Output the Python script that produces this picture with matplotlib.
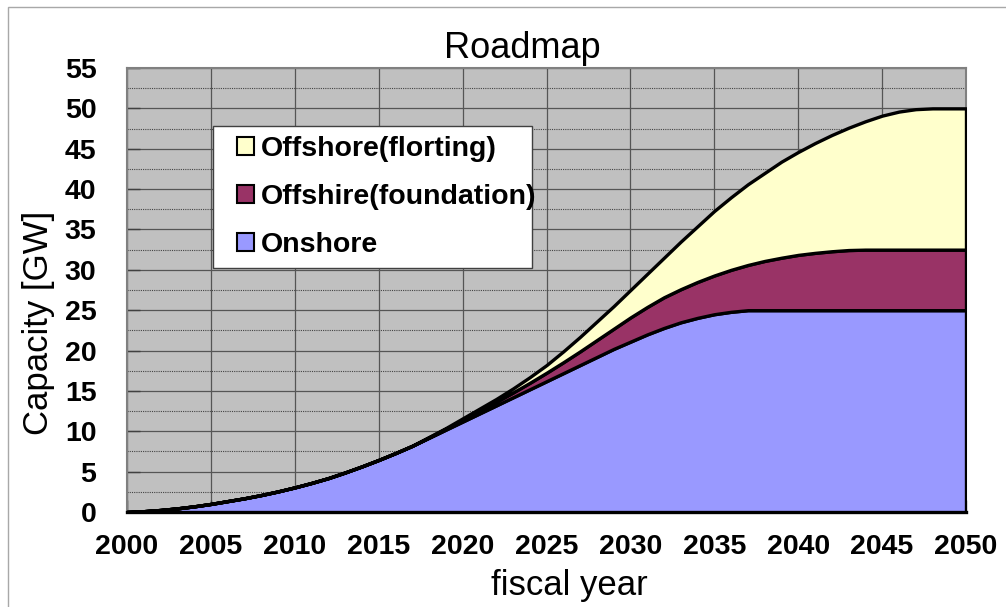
import numpy as np
import matplotlib
matplotlib.use("Agg")
import matplotlib.pyplot as plt
from matplotlib.patches import Rectangle, Patch

plt.rcParams['font.family'] = ['Liberation Sans', 'DejaVu Sans']

## Values (GW), one point per fiscal year 2000..2050
years = np.arange(2000, 2051)
onshore = [0.0, 0.1, 0.25, 0.45, 0.7, 1.0, 1.35, 1.7, 2.1, 2.55,
           3.05, 3.6, 4.2, 4.9, 5.65, 6.45, 7.3, 8.2, 9.2, 10.2,
           11.2, 12.2, 13.2, 14.2, 15.2, 16.2, 17.2, 18.2, 19.2, 20.2,
           21.1, 22.0, 22.8, 23.5, 24.05, 24.5, 24.8, 25.0, 25.0, 25.0,
           25.0, 25.0, 25.0, 25.0, 25.0, 25.0, 25.0, 25.0, 25.0, 25.0,
           25.0]
foundation = [0, 0, 0, 0, 0, 0, 0, 0, 0, 0,
              0, 0, 0, 0, 0, 0, 0, 0, 0.05, 0.1,
              0.2, 0.3, 0.45, 0.6, 0.8, 1.05, 1.35, 1.7, 2.1, 2.5,
              3.0, 3.4, 3.8, 4.1, 4.45, 4.8, 5.2, 5.6, 6.1, 6.5,
              6.85, 7.1, 7.3, 7.45, 7.5, 7.5, 7.5, 7.5, 7.5, 7.5,
              7.5]
floating = [0, 0, 0, 0, 0, 0, 0, 0, 0, 0,
            0, 0, 0, 0, 0, 0, 0, 0, 0.05, 0.1,
            0.2, 0.3, 0.35, 0.5, 0.7, 0.95, 1.35, 1.8, 2.3, 2.8,
            3.4, 4.1, 4.9, 5.9, 6.9, 8.0, 9.0, 10.0, 10.9, 11.9,
            12.75, 13.6, 14.4, 15.15, 15.9, 16.6, 17.1, 17.4, 17.5, 17.5,
            17.5]

labels = ['Onshore', 'Offshire(foundation)', 'Offshore(florting)']
colors = ['#9999FF', '#993366', '#FFFFCC']

W, H = 1006, 607
fig = plt.figure(figsize=(W / 100, H / 100), dpi=100)
ax = fig.add_axes([127 / W, (H - 512) / H, (966 - 127) / W, (512 - 68) / H])
ax.set_facecolor('#C0C0C0')

ax.stackplot(years, onshore, foundation, floating, colors=colors,
             edgecolor='black', linewidth=2.4, zorder=3)

ax.set_xlim(2000, 2050)
ax.set_ylim(0, 55)
ax.set_xticks(range(2000, 2051, 5))
ax.set_yticks(range(0, 56, 5))
ax.set_yticks(np.arange(2.5, 55, 5), minor=True)

ax.grid(True, which='major', axis='both', color='#555555', linewidth=0.9, zorder=1)
ax.grid(True, which='minor', axis='y', color='#444444', linewidth=0.8,
        linestyle=(0, (1, 1)), zorder=1)
ax.set_axisbelow(True)

ax.tick_params(axis='both', which='major', direction='in', length=9, width=1,
               color='#404040', labelsize=20.5)
ax.tick_params(axis='x', pad=16)
ax.tick_params(axis='y', pad=22)
ax.tick_params(axis='y', which='minor', length=0)
for lab in ax.get_xticklabels() + ax.get_yticklabels():
    lab.set_fontweight('bold')

for side in ['top', 'right', 'left']:
    ax.spines[side].set_color('#808080')
    ax.spines[side].set_linewidth(1.5)
ax.spines['bottom'].set_color('black')
ax.spines['bottom'].set_linewidth(2.4)

## Titles and axis labels
fig.text(522 / W, 1 - 58 / H, 'Roadmap', fontsize=26, ha='center', va='baseline')
fig.text(569 / W, 1 - 595 / H, 'fiscal year', fontsize=25, ha='center', va='baseline')
fig.text(39 / W, 1 - 323 / H, 'Capacity [GW]', fontsize=25, rotation=90,
         ha='center', va='center')

## Legend box drawn separately so its size matches the reference
box = Rectangle((213 / W, 1 - 268 / H), (532 - 213) / W, (268 - 126) / H,
                transform=fig.transFigure, facecolor='white',
                edgecolor='#404040', linewidth=1, zorder=5)
fig.patches.append(box)

handles = [Patch(facecolor=c, edgecolor='black', linewidth=1.5) for c in colors]
leg = fig.legend(handles[::-1], labels[::-1], loc='upper left',
                 bbox_to_anchor=(237 / W, 1 - 136 / H), frameon=False,
                 prop={'weight': 'bold', 'size': 20.5}, handlelength=0.6,
                 handleheight=0.6, handletextpad=0.25, labelspacing=0.78,
                 borderpad=0, borderaxespad=0)
leg.set_zorder(6)

## Light outer chart frame
fig.patches.append(Rectangle((8 / W, -0.1), 1.2, 1.1 - 7.5 / H,
                             transform=fig.transFigure, fill=False,
                             edgecolor='#A8A8A8', linewidth=1))

fig.savefig('out.png', dpi=100)
